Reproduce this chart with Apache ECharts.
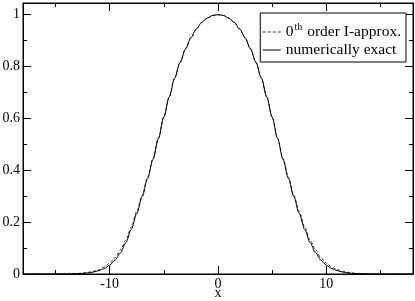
<!DOCTYPE html>
<html><head><meta charset="utf-8">
<script src="https://cdn.jsdelivr.net/npm/echarts@6/dist/echarts.min.js"></script>
<style>html,body{margin:0;padding:0;background:#fff}#c{width:415px;height:301px}</style>
</head><body><div id="c"></div>
<script>
var xs = [-18,-15,-14,-13,-12.5,-12,-11.5,-11,-10.5,-10,-9.5,-9,-8.5,-8,-7.5,-7,-6.5,-6,-5.5,-5,-4.5,-4,-3.5,-3,-2.5,-2,-1.5,-1,-0.5,0,0.5,1,1.5,2,2.5,3,3.5,4,4.5,5,5.5,6,6.5,7,7.5,8,8.5,9,9.5,10,10.5,11,11.5,12,12.5,13,14,15,18];
var exact = [0,0,0.0002,0.001,0.002,0.004,0.0075,0.013,0.021,0.034,0.054,0.082,0.121,0.172,0.233,0.298,0.368,0.442,0.522,0.605,0.683,0.756,0.816,0.868,0.911,0.945,0.970,0.987,0.997,1,0.997,0.987,0.970,0.945,0.911,0.868,0.816,0.756,0.683,0.605,0.522,0.442,0.368,0.298,0.233,0.172,0.121,0.082,0.054,0.034,0.021,0.013,0.0075,0.004,0.002,0.001,0.0002,0,0];
var approx = [0,0.0001,0.0006,0.0021,0.0037,0.0063,0.0105,0.017,0.027,0.042,0.063,0.093,0.132,0.182,0.241,0.304,0.373,0.446,0.524,0.606,0.683,0.756,0.816,0.868,0.911,0.945,0.970,0.987,0.997,1,0.997,0.987,0.970,0.945,0.911,0.868,0.816,0.756,0.683,0.606,0.524,0.446,0.373,0.304,0.241,0.182,0.132,0.093,0.063,0.042,0.027,0.017,0.0105,0.0063,0.0037,0.0021,0.0006,0.0001,0];
var xMajor = [-10,0,10];
var xMinor = [-15,-5,5,15];
var yMajor = [0,0.2,0.4,0.6,0.8,1];
var yMinor = [0.1,0.3,0.5,0.7,0.9];
var seriesNames = ['0th order I-approx.','numerically exact'];

var font = 'Liberation Serif';
function pairs(a){ return xs.map(function(x,i){ return [x,a[i]]; }); }
function xa(pos, major, vals, len, show){
  return {type:'value', position:pos, min:-18, max:18,
    axisLine:{show:show, onZero:false, lineStyle:{color:'#000',width:1}},
    axisTick:{show:true, inside:true, length:len, customValues:vals, lineStyle:{color:'#000',width:1}},
    axisLabel:{show:major && pos==='bottom', customValues:vals, color:'#000', fontFamily:font, fontSize:14, margin:3},
    splitLine:{show:false}};
}
function ya(pos, major, vals, len, show){
  return {type:'value', position:pos, min:0, max:1.045,
    axisLine:{show:show, onZero:false, lineStyle:{color:'#000',width:1}},
    axisTick:{show:true, inside:true, length:len, customValues:vals, lineStyle:{color:'#000',width:1}},
    axisLabel:{show:major && pos==='left', customValues:vals, color:'#000', fontFamily:font, fontSize:14, margin:3},
    splitLine:{show:false}};
}
var x0 = xa('bottom', true, xMajor, 8, true);
x0.name = 'x'; x0.nameLocation = 'middle'; x0.nameGap = 12; x0.nameMoveOverlap = false;
x0.nameTextStyle = {color:'#000', fontFamily:font, fontSize:14, verticalAlign:'top', lineHeight:14};
var chart = echarts.init(document.getElementById('c'));
chart.setOption({
  animation:false,
  backgroundColor:'#fff',
  grid:{left:23, right:2, top:3, bottom:27, show:true, borderColor:'#000', borderWidth:1, containLabel:false, outerBoundsMode:'none'},
  xAxis:[x0, xa('bottom', false, xMinor, 4, false), xa('top', true, xMajor, 8, true), xa('top', false, xMinor, 4, false)],
  yAxis:[ya('left', true, yMajor, 8, true), ya('left', false, yMinor, 4, false), ya('right', true, yMajor, 8, true), ya('right', false, yMinor, 4, false)],
  legend:{
    orient:'vertical', right:9, top:13, backgroundColor:'#fff', borderColor:'#000', borderWidth:1,
    padding:[9,5,4,2], itemGap:2, itemWidth:18, itemHeight:14,
    itemStyle:{opacity:0},
    lineStyle:{width:1},
    data:seriesNames,
    textStyle:{color:'#000', fontFamily:font, fontSize:15.5,
      rich:{a:{fontFamily:font, fontSize:15.5, color:'#000'}, s:{fontFamily:font, fontSize:10, color:'#000', verticalAlign:'top', padding:[0,1,10,1]}}},
    formatter:function(n){ return n===seriesNames[0] ? '{a|0}{s|th}{a| order I-approx.}' : '{a|' + n + '}'; }
  },
  series:[
    {name:seriesNames[0], type:'line', data:pairs(approx), symbol:'none', smooth:0.3, smoothMonotone:'x', lineStyle:{color:'#333', width:1, type:[3,2]}, itemStyle:{color:'#333'}, z:3},
    {name:seriesNames[1], type:'line', data:pairs(exact), symbol:'none', smooth:0.3, smoothMonotone:'x', lineStyle:{color:'#000', width:1}, itemStyle:{color:'#000'}, z:4}
  ]
});
</script></body></html>
